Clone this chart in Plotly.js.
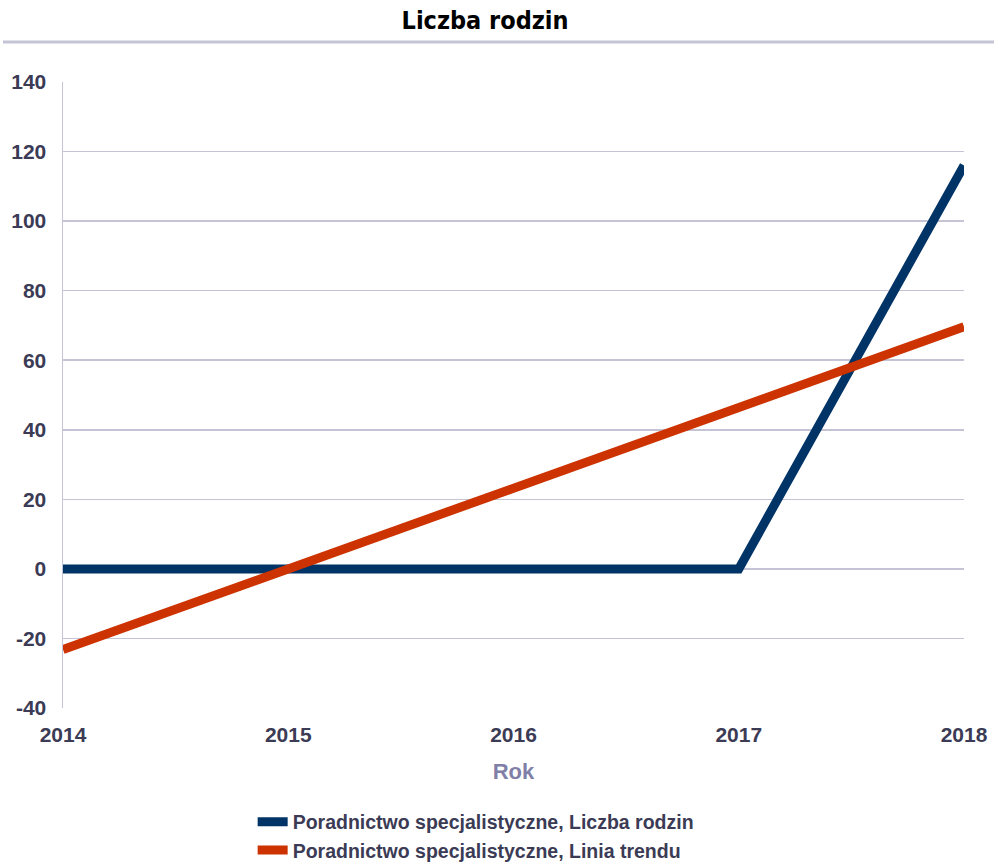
<!DOCTYPE html>
<html><head><meta charset="utf-8">
<script src="https://cdn.plot.ly/plotly-3.0.1.min.js"></script>
<style>html,body{margin:0;padding:0;background:#fff;}#chart{width:994px;height:862px;}</style>
</head><body><div id="chart"></div>
<script>
const years = [2014, 2015, 2016, 2017, 2018];
const liczbaRodzin = [0, 0, 0, 0, 116];
const liniaTrendu = [-23.2, 0, 23.2, 46.4, 69.6];
const seriesNames = ["Poradnictwo specjalistyczne, Liczba rodzin", "Poradnictwo specjalistyczne, Linia trendu"];
const yTicks = [-40, -20, 0, 20, 40, 60, 80, 100, 120, 140];
const yTickText = ["-40", "-20", "0", "20", "40", "60", "80", "100", "120", "140"];

const tickFont = {family: "Arial, 'Liberation Sans', sans-serif", size: 21, color: "#3b3b55", weight: 700};
const data = [
  {x: years, y: liczbaRodzin, name: seriesNames[0], type: "scatter", mode: "lines",
   line: {color: "#003366", width: 9}},
  {x: years, y: liniaTrendu, name: seriesNames[1], type: "scatter", mode: "lines",
   line: {color: "#cc3300", width: 9}}
];
const layout = {
  width: 994, height: 862,
  margin: {l: 63, r: 30, t: 82, b: 154, autoexpand: false},
  paper_bgcolor: "#fff", plot_bgcolor: "#fff",
  title: {text: "Liczba rodzin", x: 0.488, xanchor: "center", y: 0.976, yanchor: "middle",
    font: {family: "'DejaVu Sans Condensed', 'Liberation Sans Narrow', sans-serif", size: 25, color: "#000", weight: 700}},
  xaxis: {range: [2014, 2018], tickvals: years, ticktext: years.map(String), showgrid: false, automargin: false,
    zeroline: false, showline: false, ticks: "", tickfont: tickFont, ticklabelstandoff: 12,
    title: {text: "Rok", font: {family: "Arial, 'Liberation Sans', sans-serif", size: 22, color: "#7f7fa8", weight: 700}, standoff: 18}},
  yaxis: {range: [-40, 140], tickvals: yTicks, ticktext: yTickText, showgrid: true, gridcolor: "#c4c4d6", gridwidth: 1.5,
    automargin: false, zeroline: false, showline: true, linecolor: "#c4c4d6", linewidth: 1.5, ticks: "", tickfont: tickFont, ticklabelstandoff: 11},
  showlegend: true,
  legend: {orientation: "v", x: 0.458, xanchor: "center", y: -0.151, yanchor: "top",
    font: {family: "Arial, 'Liberation Sans', sans-serif", size: 19.5, color: "#3b3b55", weight: 700},
    tracegroupgap: 0, itemwidth: 30, bgcolor: "rgba(0,0,0,0)"},
  shapes: [
    {type: "line", xref: "paper", yref: "paper", x0: -0.0666, x1: 1.0333, y0: 1.0639, y1: 1.0639,
     line: {color: "#c4c4d6", width: 3}}
  ]
};
Plotly.newPlot("chart", data, layout, {displayModeBar: false, staticPlot: true});
</script></body></html>
